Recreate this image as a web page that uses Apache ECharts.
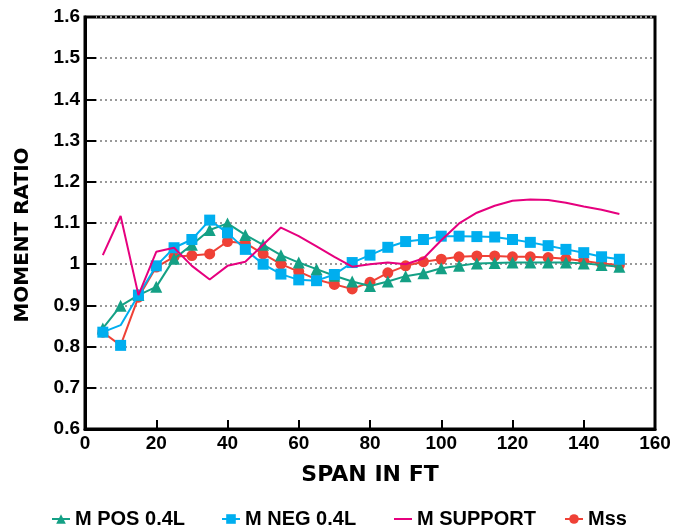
<!DOCTYPE html>
<html>
<head>
<meta charset="utf-8">
<script src="https://cdn.jsdelivr.net/npm/echarts@6/dist/echarts.min.js"></script>
<style>
  html, body { margin: 0; padding: 0; background: #fff; }
  #chart { width: 686px; height: 528px; }
</style>
</head>
<body>
<div id="chart"></div>
<script>
// span in ft, one reading every 5 ft
var spans = [5, 10, 15, 20, 25, 30, 35, 40, 45, 50, 55, 60, 65, 70, 75,
  80, 85, 90, 95, 100, 105, 110, 115, 120, 125, 130, 135, 140, 145, 150];

var mPos = [0.844, 0.899, 0.925, 0.945, 1.013, 1.047, 1.083, 1.099, 1.071, 1.047,
  1.022, 1.004, 0.988, 0.972, 0.958, 0.947, 0.958, 0.971, 0.978, 0.990,
  0.996, 1.002, 1.003, 1.004, 1.004, 1.004, 1.004, 1.002, 0.998, 0.994];

var mNeg = [0.835, 0.852, 0.925, 0.996, 1.040, 1.060, 1.107, 1.076, 1.036, 1.000,
  0.976, 0.962, 0.960, 0.975, 1.004, 1.022, 1.041, 1.055, 1.060, 1.068,
  1.068, 1.067, 1.066, 1.060, 1.053, 1.045, 1.036, 1.028, 1.018, 1.012];

var mSupport = [1.022, 1.117, 0.925, 1.030, 1.040, 0.996, 0.963, 0.996, 1.006, 1.047,
  1.089, 1.068, 1.043, 1.018, 0.994, 1.000, 1.004, 1.000, 1.014, 1.058,
  1.099, 1.125, 1.142, 1.154, 1.157, 1.156, 1.149, 1.140, 1.132, 1.122];

var mss = [0.835, 0.803, 0.920, 0.993, 1.018, 1.021, 1.025, 1.055, 1.051, 1.025,
  1.000, 0.982, 0.963, 0.951, 0.940, 0.956, 0.979, 0.996, 1.006, 1.012,
  1.018, 1.020, 1.020, 1.018, 1.018, 1.016, 1.013, 1.008, 1.002, 0.998];

var xTicks = { min: 0, max: 160, step: 20 };
var yTicks = { min: 0.6, max: 1.6, step: 0.1 };

var GREEN = '#14a085', BLUE = '#00aeef', PINK = '#e6007e', RED = '#ef4136';

function pairs(vals) {
  return spans.map(function (s, i) { return [s, vals[i]]; });
}

// in the source the 10 ft point of M NEG has no marker and the Mss point there wears a blue square
var negData = pairs(mNeg);
negData[1] = { value: negData[1], symbol: 'none' };
var mssData = pairs(mss);
mssData[1] = { value: mssData[1], symbol: 'rect', symbolSize: 11, itemStyle: { color: BLUE } };

var chart = echarts.init(document.getElementById('chart'), null, { renderer: 'canvas' });

var labelFont = { color: '#000', fontFamily: 'Liberation Sans', fontWeight: 'bold', fontSize: 19 };

function legendAt(left, item, gap, w, h) {
  return {
    left: left, top: 504, data: [item],
    itemWidth: w || 18, itemHeight: h || 12, itemTextGap: gap,
    textStyle: { color: '#000', fontFamily: 'Liberation Sans', fontWeight: 'bold', fontSize: 20 }
  };
}

chart.setOption({
  animation: false,
  backgroundColor: '#fff',
  grid: { left: 85, right: 31, top: 17, bottom: 99, show: true, borderColor: '#000', borderWidth: 3 },
  legend: [
    legendAt(46, 'M POS 0.4L', 10),
    legendAt(216, 'M NEG 0.4L', 10),
    legendAt(389, { name: 'M SUPPORT', icon: 'rect' }, 17, 18, 2),
    legendAt(559, 'Mss', 12)
  ],
  xAxis: {
    type: 'value', min: xTicks.min, max: xTicks.max, interval: xTicks.step,
    name: 'SPAN IN FT', nameLocation: 'middle', nameGap: 35,
    nameTextStyle: { color: '#000', fontFamily: 'DejaVu Sans', fontWeight: 'bold', fontSize: 22 },
    axisLine: { lineStyle: { color: '#000', width: 3 } },
    axisTick: { inside: true, length: 9, lineStyle: { color: '#000', width: 2 } },
    axisLabel: Object.assign({ margin: 5 }, labelFont),
    splitLine: { show: false }
  },
  yAxis: {
    type: 'value', min: yTicks.min, max: yTicks.max, interval: yTicks.step,
    name: 'MOMENT RATIO', nameLocation: 'middle', nameGap: 52, nameRotate: 90,
    nameTextStyle: { color: '#000', fontFamily: 'DejaVu Sans', fontWeight: 'bold', fontSize: 20,
      padding: [0, 24, 0, 0] },
    axisLine: { lineStyle: { color: '#000', width: 3 } },
    axisTick: { inside: true, length: 11, lineStyle: { color: '#000', width: 2 } },
    axisLabel: Object.assign({
      margin: 5,
      formatter: function (v) { return String(Number(v.toFixed(1))); }
    }, labelFont),
    splitLine: { lineStyle: { color: '#999', width: 2, type: [2, 3] } }
  },
  series: [
    { name: 'Mss', type: 'line', data: mssData, z: 2, color: RED,
      symbol: 'circle', symbolSize: 11, lineStyle: { width: 2 } },
    { name: 'M POS 0.4L', type: 'line', data: pairs(mPos), z: 3, color: GREEN,
      symbol: 'triangle', symbolSize: 12, lineStyle: { width: 2 } },
    { name: 'M NEG 0.4L', type: 'line', data: negData, z: 4, color: BLUE,
      symbol: 'rect', symbolSize: 11, lineStyle: { width: 2 } },
    { name: 'M SUPPORT', type: 'line', data: pairs(mSupport), z: 5, color: PINK,
      symbol: 'none', lineStyle: { width: 2 } }
  ]
});
</script>
</body>
</html>
